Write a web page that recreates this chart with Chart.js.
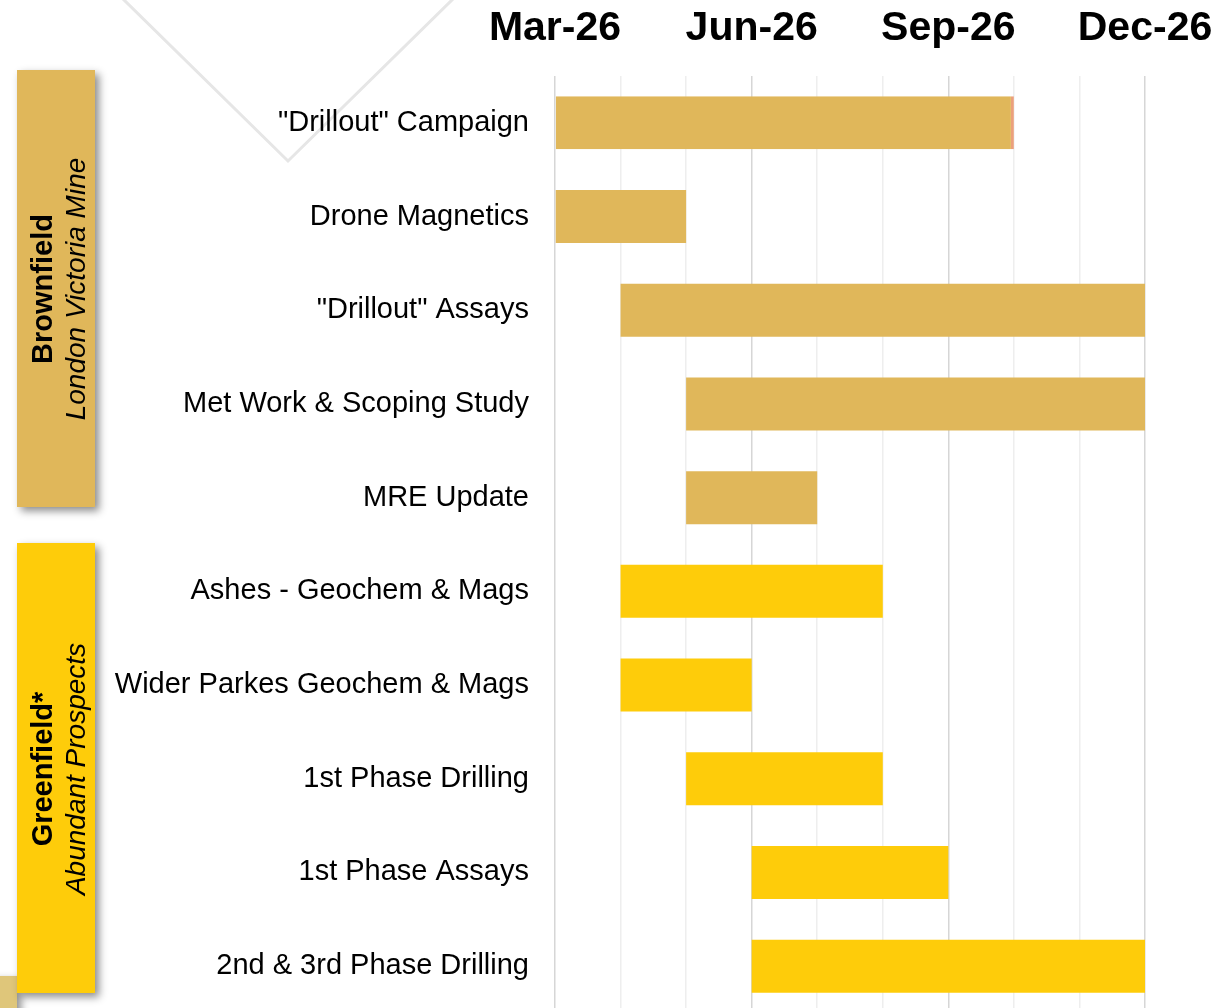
<!DOCTYPE html>
<html>
<head>
<meta charset="utf-8">
<script src="https://cdn.jsdelivr.net/npm/chart.js@4.4.1/dist/chart.umd.min.js"></script>
<style>
  html, body { margin: 0; padding: 0; background: #fff; overflow: hidden; }
  #wrap { width: 1224px; height: 1008px; overflow: hidden; position: relative; }
</style>
</head>
<body>
<div id="wrap"><canvas id="gantt" width="1224" height="1013"></canvas></div>
<script>
// Actividades (de arriba a abajo)
const tasks = [
  '"Drillout" Campaign',
  'Drone Magnetics',
  '"Drillout" Assays',
  'Met Work & Scoping Study',
  'MRE Update',
  'Ashes - Geochem & Mags',
  'Wider Parkes Geochem & Mags',
  '1st Phase Drilling',
  '1st Phase Assays',
  '2nd & 3rd Phase Drilling'
];
// inicio y fin en meses desde Mar-26
const startMonth = [0, 0, 1, 2, 2, 1, 1, 2, 3, 3];
const endMonth   = [7, 2, 9, 9, 4, 5, 3, 5, 6, 9];
// grupo de cada actividad
const taskGroup = ['brown', 'brown', 'brown', 'brown', 'brown', 'green', 'green', 'green', 'green', 'green'];

// etiquetas del eje (se muestran cada trimestre)
const monthLabels = ['Mar-26', 'Apr-26', 'May-26', 'Jun-26', 'Jul-26', 'Aug-26', 'Sep-26', 'Oct-26', 'Nov-26', 'Dec-26'];

// etiquetas de los grupos
const groupTitles = ['Brownfield', 'Greenfield*'];
const groupSubtitles = ['London Victoria Mine', 'Abundant Prospects'];

const colors = { brown: '#E0B75A', green: '#FECC0A' };
const FONT = "'Liberation Sans', Arial, sans-serif";

// Dibujar decoraciones de fondo y cajas de grupo
const decorPlugin = {
  id: 'decor',
  beforeDraw(chart) {
    const c = chart.ctx;
    c.save();
    // linea en V gris claro
    c.strokeStyle = '#e6e6e6';
    c.lineWidth = 3;
    c.beginPath();
    c.moveTo(122, -2);
    c.lineTo(288, 161);
    c.lineTo(454, -2);
    c.stroke();

    const boxes = [
      { x: 17, y: 70, w: 78, h: 437, color: colors.brown, cy: 289 },
      { x: 17, y: 543, w: 78, h: 450, color: colors.green, cy: 769 }
    ];
    // cuadrito abajo a la izquierda
    c.shadowColor = 'rgba(0,0,0,0.45)';
    c.shadowBlur = 8;
    c.shadowOffsetX = 4;
    c.shadowOffsetY = 4;
    c.fillStyle = '#DFC67A';
    c.fillRect(-10, 976, 27, 40);
    boxes.forEach(b => {
      c.fillStyle = b.color;
      c.fillRect(b.x, b.y, b.w, b.h);
    });
    c.shadowColor = 'transparent';

    boxes.forEach((b, i) => {
      c.save();
      c.fillStyle = '#000';
      c.textAlign = 'center';
      c.textBaseline = 'alphabetic';
      c.translate(52, b.cy);
      c.rotate(-Math.PI / 2);
      c.font = 'bold 29px ' + FONT;
      c.fillText(groupTitles[i], 0, 0);
      c.restore();
      c.save();
      c.fillStyle = '#000';
      c.textAlign = 'center';
      c.textBaseline = 'alphabetic';
      c.translate(85, b.cy);
      c.rotate(-Math.PI / 2);
      c.font = 'italic 28px ' + FONT;
      c.fillText(groupSubtitles[i], 0, 0);
      c.restore();
    });
    c.restore();
  }
};

const ganttData = {
  labels: tasks,
  datasets: [{
    label: 'Programa',
    data: tasks.map((t, i) => [startMonth[i], endMonth[i]]),
    backgroundColor: taskGroup.map(g => colors[g]),
    borderColor: '#EBA07C',
    borderWidth: tasks.map((t, i) => i === 0 ? { top: 0, right: 3, bottom: 0, left: 0 } : 0),
    borderSkipped: false,
    barPercentage: 0.566,
    categoryPercentage: 1.0
  }]
};

const options = {
  indexAxis: 'y',
  responsive: false,
  animation: false,
  layout: { padding: { left: 0, right: 79, top: 0, bottom: 0 } },
  plugins: {
    legend: { display: false },
    tooltip: { enabled: false }
  },
  scales: {
    x: {
      type: 'linear',
      position: 'top',
      min: 0,
      max: 9,
      afterFit(scale) {
        scale.height = 76;
        scale.paddingLeft = 0;
        scale.paddingRight = 0;
      },
      border: { display: false },
      grid: {
        drawTicks: false,
        lineWidth: 1.5,
        color: ctx => (ctx.tick && ctx.tick.value % 3 === 0) ? '#d6d6d6' : '#eeeeee'
      },
      ticks: {
        stepSize: 1,
        autoSkip: false,
        maxRotation: 0,
        minRotation: 0,
        padding: 23,
        color: '#000',
        font: { family: FONT, size: 41, weight: 'bold' },
        callback: v => (v % 3 === 0 ? monthLabels[v] : '')
      }
    },
    y: {
      afterFit(scale) {
        scale.width = 555;
        scale.paddingTop = 0;
        scale.paddingBottom = 0;
      },
      border: { display: false },
      grid: { display: false, drawTicks: false },
      ticks: {
        padding: 26,
        color: '#000',
        font: { family: FONT, size: 29 }
      }
    }
  }
};

const ctx = document.getElementById('gantt').getContext('2d');
const ganttChart = new Chart(ctx, {
  type: 'bar',
  data: ganttData,
  options: options,
  plugins: [decorPlugin]
});
</script>
</body>
</html>
